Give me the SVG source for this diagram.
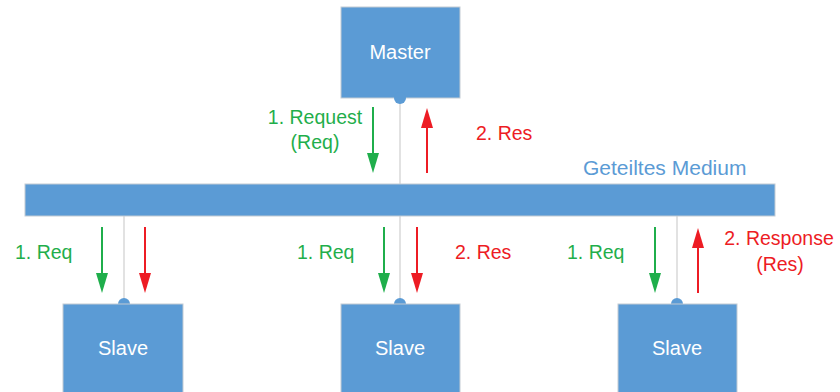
<svg xmlns="http://www.w3.org/2000/svg" width="840" height="392" viewBox="0 0 840 392">
  <defs>
    <marker id="headG" viewBox="0 0 20 12" refX="0" refY="6" markerWidth="20" markerHeight="12" markerUnits="userSpaceOnUse" orient="auto">
      <path d="M0,0 L20,6 L0,12 Z" fill="#1fae4b"/>
    </marker>
    <marker id="headR" viewBox="0 0 20 12" refX="0" refY="6" markerWidth="20" markerHeight="12" markerUnits="userSpaceOnUse" orient="auto">
      <path d="M0,0 L20,6 L0,12 Z" fill="#ed1c24"/>
    </marker>
  </defs>
  <style>
    .box { fill: #5b9bd5; stroke: #c3cbd3; stroke-width: 1; }
    .dot { fill: #5b9bd5; }
    .wire { stroke: #cfcfcf; stroke-width: 1.2; fill: none; }
    .req { stroke: #1fae4b; stroke-width: 2; fill: none; }
    .res { stroke: #ed1c24; stroke-width: 2; fill: none; }
    .name { font-family: "Liberation Sans", Arial, sans-serif; font-size: 20px; fill: #ffffff; text-anchor: middle; }
    .lbl { font-family: "Liberation Sans", Arial, sans-serif; font-size: 19.5px; }
    .g { fill: #1fae4b; }
    .r { fill: #ed1c24; }
    .b { fill: #5b9bd5; font-size: 21px; }
  </style>
  <rect width="840" height="392" fill="#ffffff"/>

  <!-- connectors: wires to the shared medium and message arrows (line stops at arrowhead base) -->
  <g id="connectors">
    <line class="wire" x1="400" y1="98" x2="400" y2="184"/>
    <line class="wire" x1="124" y1="216" x2="124" y2="304"/>
    <line class="wire" x1="400" y1="216" x2="400" y2="304"/>
    <line class="wire" x1="677" y1="216" x2="677" y2="304"/>

    <line class="req" x1="373" y1="107" x2="373" y2="153" marker-end="url(#headG)"/>
    <line class="res" x1="427" y1="173" x2="427" y2="128" marker-end="url(#headR)"/>

    <line class="req" x1="102" y1="227" x2="102" y2="273" marker-end="url(#headG)"/>
    <line class="res" x1="145" y1="227" x2="145" y2="273" marker-end="url(#headR)"/>

    <line class="req" x1="384" y1="227" x2="384" y2="273" marker-end="url(#headG)"/>
    <line class="res" x1="417" y1="227" x2="417" y2="273" marker-end="url(#headR)"/>

    <line class="req" x1="655" y1="227" x2="655" y2="273" marker-end="url(#headG)"/>
    <line class="res" x1="698" y1="293" x2="698" y2="248" marker-end="url(#headR)"/>
  </g>

  <g id="medium">
    <rect class="box" x="25" y="184" width="750" height="32"/>
    <text class="lbl b" x="583" y="175">Geteiltes Medium</text>
  </g>

  <g id="master">
    <rect class="box" x="341" y="7" width="119" height="91"/>
    <circle class="dot" cx="400" cy="98" r="6"/>
    <text class="name" x="400" y="59">Master</text>
  </g>

  <g id="slave1">
    <circle class="dot" cx="124" cy="304" r="6"/>
    <rect class="box" x="63" y="304" width="120" height="100"/>
    <text class="name" x="123" y="355">Slave</text>
  </g>

  <g id="slave2">
    <circle class="dot" cx="400" cy="304" r="6"/>
    <rect class="box" x="341" y="304" width="119" height="100"/>
    <text class="name" x="400" y="355">Slave</text>
  </g>

  <g id="slave3">
    <circle class="dot" cx="677" cy="304" r="6"/>
    <rect class="box" x="618" y="304" width="119" height="100"/>
    <text class="name" x="677" y="355">Slave</text>
  </g>

  <!-- message labels -->
  <g id="labels">
    <text class="lbl g" x="315" y="124" text-anchor="middle">1. Request</text>
    <text class="lbl g" x="315" y="149" text-anchor="middle">(Req)</text>
    <text class="lbl r" x="476" y="140">2. Res</text>

    <text class="lbl g" x="15" y="259">1. Req</text>

    <text class="lbl g" x="297" y="259">1. Req</text>
    <text class="lbl r" x="455" y="259">2. Res</text>

    <text class="lbl g" x="567" y="259">1. Req</text>
    <text class="lbl r" x="779" y="245" text-anchor="middle">2. Response</text>
    <text class="lbl r" x="780" y="271" text-anchor="middle">(Res)</text>
  </g>
</svg>
